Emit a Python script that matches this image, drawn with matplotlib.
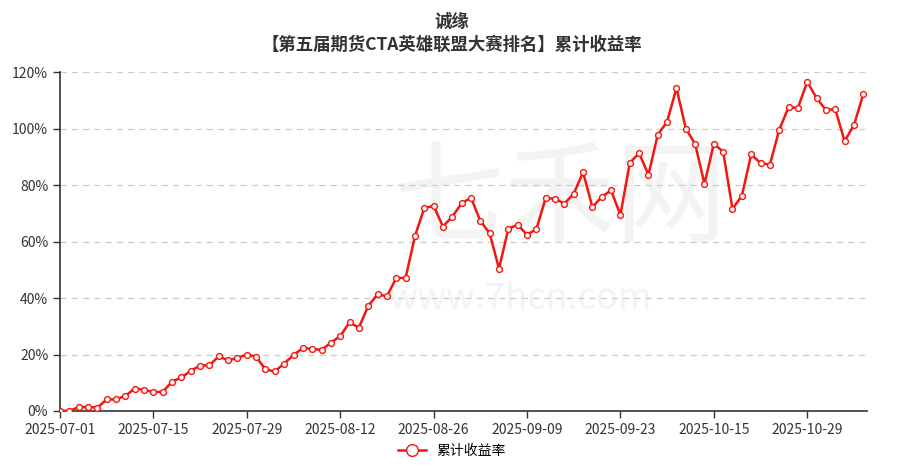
import matplotlib
matplotlib.use("Agg")
import matplotlib.pyplot as plt

plt.rcParams['font.family'] = ['Noto Sans CJK SC', 'DejaVu Sans']

# cumulative return (%), one value per trading day from 2025-07-01
returns = [
    0.1, 0.0, 1.4, 1.4, 1.2, 4.1, 4.1, 5.4, 7.9, 7.5,
    6.7, 6.8, 10.4, 11.9, 14.2, 16.1, 16.2, 19.4, 17.9, 18.8,
    20.0, 19.2, 14.7, 14.0, 16.8, 19.8, 22.3, 22.0, 21.6, 24.2,
    26.5, 31.4, 29.5, 37.2, 41.3, 40.6, 47.1, 47.1, 61.9, 71.8,
    72.6, 65.3, 68.8, 73.5, 75.5, 67.3, 62.9, 50.4, 64.5, 65.9,
    62.4, 64.4, 75.4, 75.1, 73.4, 76.9, 84.5, 72.2, 75.8, 78.1,
    69.4, 87.8, 91.3, 83.6, 97.8, 102.4, 114.3, 100.0, 94.5, 80.4,
    94.6, 91.8, 71.5, 76.2, 90.8, 87.8, 87.2, 99.5, 107.5, 107.3,
    116.5, 110.8, 106.5, 106.9, 95.5, 101.2, 112.1,
]
tick_pos = [0, 10, 20, 30, 40, 50, 60, 70, 80]
tick_labels = ['2025-07-01', '2025-07-15', '2025-07-29', '2025-08-12', '2025-08-26',
               '2025-09-09', '2025-09-23', '2025-10-15', '2025-10-29']
y_ticks = [0, 20, 40, 60, 80, 100, 120]

fig = plt.figure(figsize=(9.04, 4.71), dpi=100)
ax = fig.add_axes([60 / 904, 60 / 471, 807 / 904, 339 / 471])

# faint watermark
ax.text(0.62, 0.62, '七禾网', transform=ax.transAxes, fontsize=80, color='#f3f3f3',
        ha='center', va='center', zorder=0)
ax.text(0.57, 0.33, 'www.7hcn.com', transform=ax.transAxes, fontsize=26, color='#f3f3f3',
        ha='center', va='center', zorder=0)

x = list(range(len(returns)))
ax.plot(x, returns, color='#f5150f', linewidth=1.8, marker='o', markersize=4.2,
        markerfacecolor='white', markeredgecolor='#f5150f', markeredgewidth=1.0,
        label='累计收益率', zorder=3)

ax.set_xlim(0, 86.4)
ax.set_ylim(0, 120)
ax.set_xticks(tick_pos)
ax.set_xticklabels(tick_labels)
ax.set_yticks(y_ticks)
ax.set_yticklabels([f'{v}%' for v in y_ticks])
ax.tick_params(axis='both', labelsize=10, colors='#333333', length=5, width=1)
ax.tick_params(axis='x', colors='#333333')
ax.yaxis.grid(True, linestyle=(0, (5, 4)), color='#cccccc', linewidth=0.9)
ax.set_axisbelow(True)
for s in ['top', 'right']:
    ax.spines[s].set_visible(False)
for s in ['left', 'bottom']:
    ax.spines[s].set_color('#333333')
    ax.spines[s].set_linewidth(1.2)

fig.text(0.5, 0.953, '诚缘', ha='center', va='center', fontsize=12.5,
         fontweight='bold', color='#333333')
fig.text(0.5, 0.905, '【第五届期货CTA英雄联盟大赛排名】累计收益率', ha='center', va='center',
         fontsize=12.5, fontweight='bold', color='#333333')

fig.legend(loc='center', bbox_to_anchor=(0.5, 0.043), frameon=False, fontsize=10,
           handlelength=2.0, markerscale=2.0)

fig.savefig('out.png', dpi=100)
